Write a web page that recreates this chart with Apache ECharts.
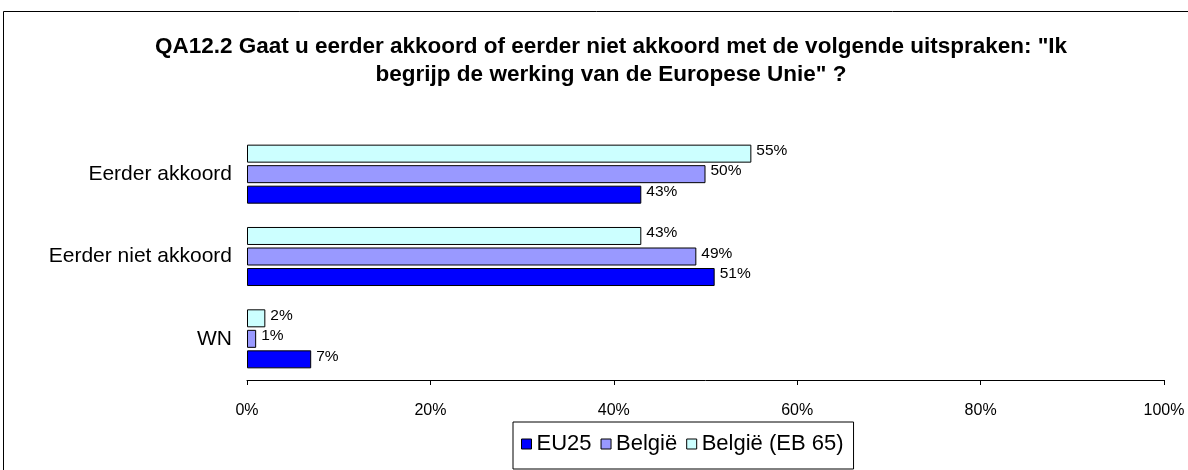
<!DOCTYPE html>
<html>
<head>
<meta charset="utf-8">
<script src="https://cdn.jsdelivr.net/npm/echarts@6/dist/echarts.min.js"></script>
<style>
  html, body { margin: 0; padding: 0; background: #fff; }
  #chart { width: 1188px; height: 470px; }
</style>
</head>
<body>
<div id="chart"></div>
<script>
const CATEGORIES = ["WN", "Eerder niet akkoord", "Eerder akkoord"];
const SERIES_NAMES = ["EU25", "België", "België (EB 65)"];
const EU25 = [7, 51, 43];
const BELGIE = [1, 49, 50];
const BELGIE_EB65 = [2, 43, 55];
const X_TICKS = [0, 20, 40, 60, 80, 100];

const COLORS = ["#0000FF", "#9999FF", "#CCFFFF"];
const FONT = "Liberation Sans, Arial, sans-serif";

const chart = echarts.init(document.getElementById("chart"), null, { renderer: "canvas" });

function barSeries(name, data, color) {
  return {
    name,
    type: "bar",
    data,
    barWidth: 18,
    barGap: "14%",
    itemStyle: { color, borderColor: "#000", borderWidth: 1 },
    label: {
      show: true,
      position: "right",
      distance: 5,
      offset: [0, -3],
      formatter: "{c}%",
      color: "#000",
      fontFamily: FONT,
      fontSize: 15.5,
    },
  };
}

// in a horizontal bar chart ECharts stacks series top-to-bottom within a band,
// so the series go in reverse legend order to put EU25 at the bottom
chart.setOption({
  backgroundColor: "#ffffff",
  animation: false,
  title: {
    text: 'QA12.2 Gaat u eerder akkoord of eerder niet akkoord met de volgende uitspraken: "Ik\nbegrijp de werking van de Europese Unie" ?',
    left: 606,
    top: 28,
    textAlign: "center",
    textStyle: {
      fontFamily: FONT,
      fontSize: 22.5,
      fontWeight: "bold",
      color: "#000",
      lineHeight: 28,
    },
  },
  graphic: [
    {
      type: "rect",
      shape: { x: 3.5, y: 11.5, width: 1200, height: 500 },
      style: { fill: "none", stroke: "#000", lineWidth: 1 },
      silent: true,
    },
  ],
  legend: {
    left: 513,
    top: 422,
    padding: [11, 10, 14, 8],
    itemGap: 9,
    itemWidth: 10,
    itemHeight: 10,
    borderColor: "#000",
    borderWidth: 1,
    icon: "rect",
    itemStyle: { borderColor: "#000", borderWidth: 1 },
    textStyle: { fontFamily: FONT, fontSize: 22, color: "#000" },
    data: SERIES_NAMES,
  },
  grid: { left: 247, right: 24, top: 133, bottom: 90, containLabel: false },
  xAxis: {
    type: "value",
    min: 0,
    max: 100,
    interval: 20,
    axisLine: { show: true, lineStyle: { color: "#000", width: 1 } },
    axisTick: { show: true, length: 5, lineStyle: { color: "#000" } },
    splitLine: { show: false },
    axisLabel: {
      margin: 23,
      color: "#000",
      fontFamily: FONT,
      fontSize: 16,
      formatter: (v) => (X_TICKS.includes(v) ? v + "%" : ""),
    },
  },
  yAxis: {
    type: "category",
    data: CATEGORIES,
    axisLine: { show: false },
    axisTick: { show: false },
    axisLabel: { margin: 15, color: "#000", fontFamily: FONT, fontSize: 21 },
  },
  series: [
    barSeries(SERIES_NAMES[2], BELGIE_EB65, COLORS[2]),
    barSeries(SERIES_NAMES[1], BELGIE, COLORS[1]),
    barSeries(SERIES_NAMES[0], EU25, COLORS[0]),
  ],
});
</script>
</body>
</html>
